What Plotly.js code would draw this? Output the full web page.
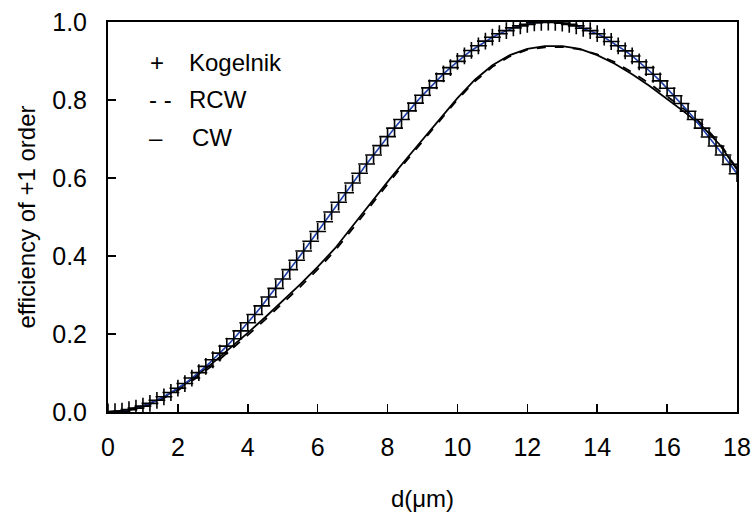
<!DOCTYPE html>
<html>
<head>
<meta charset="utf-8">
<script src="https://cdn.plot.ly/plotly-3.0.1.min.js"></script>
<style>
html,body{margin:0;padding:0;background:#fff;}
#chart{width:755px;height:517px;}
</style>
</head>
<body>
<div id="chart"></div>
<script>
// Kogelnik (step 0.2 um)
const dKog = [];
for (let i = 0; i <= 90; i++) dKog.push(+(i * 0.2).toFixed(1));
const effKogelnik = [
  0.000, 0.001, 0.002, 0.006, 0.010, 0.015, 0.022, 0.030, 0.039, 0.050,
  0.061, 0.073, 0.087, 0.101, 0.117, 0.134, 0.151, 0.169, 0.188, 0.208,
  0.229, 0.250, 0.272, 0.295, 0.317, 0.341, 0.365, 0.389, 0.413, 0.438,
  0.463, 0.488, 0.513, 0.538, 0.562, 0.587, 0.612, 0.636, 0.659, 0.683,
  0.706, 0.728, 0.750, 0.772, 0.792, 0.812, 0.831, 0.849, 0.867, 0.883,
  0.899, 0.913, 0.927, 0.939, 0.951, 0.961, 0.970, 0.978, 0.985, 0.990,
  0.994, 0.998, 0.999, 1.000, 0.999, 0.997, 0.994, 0.990, 0.984, 0.978,
  0.970, 0.961, 0.950, 0.939, 0.926, 0.913, 0.898, 0.883, 0.866, 0.849,
  0.830, 0.811, 0.791, 0.771, 0.750, 0.728, 0.705, 0.682, 0.659, 0.635, 0.611
];

// RCW and CW (step 0.5 um)
const dWave = [];
for (let i = 0; i <= 36; i++) dWave.push(i * 0.5);
const effRCW = [
  0.000, 0.003, 0.013, 0.031, 0.055, 0.086, 0.120, 0.158, 0.197, 0.237,
  0.278, 0.321, 0.366, 0.414, 0.470, 0.528, 0.584, 0.640, 0.694, 0.748,
  0.801, 0.848, 0.885, 0.912, 0.929, 0.935, 0.936, 0.930, 0.917, 0.897,
  0.871, 0.842, 0.810, 0.776, 0.738, 0.690, 0.623
];
const effCW = [
  0.000, 0.004, 0.015, 0.034, 0.059, 0.091, 0.126, 0.164, 0.203, 0.243,
  0.284, 0.327, 0.372, 0.420, 0.477, 0.535, 0.590, 0.645, 0.699, 0.752,
  0.805, 0.852, 0.889, 0.915, 0.931, 0.938, 0.938, 0.931, 0.915, 0.893,
  0.866, 0.836, 0.803, 0.769, 0.733, 0.686, 0.622
];

const xTicks = [0, 2, 4, 6, 8, 10, 12, 14, 16, 18];
const yTicks = [0, 0.2, 0.4, 0.6, 0.8, 1.0];
const yTickText = ["0.0", "0.2", "0.4", "0.6", "0.8", "1.0"];

const legendItems = [
  {sym: "+", label: "Kogelnik"},
  {sym: "- -", label: "RCW"},
  {sym: "\u2013", label: "CW"}
];

const FONT = "Liberation Sans, Arial, sans-serif";

const traces = [
  {x: dWave, y: effCW, mode: "lines", line: {color: "#000", width: 1.8}, showlegend: false},
  {x: dWave, y: effRCW, mode: "lines", line: {color: "#000", width: 1.8, dash: "dash"}, showlegend: false},
  {x: dKog, y: effKogelnik, mode: "lines+markers",
   line: {color: "#1f3fa8", width: 1.6},
   marker: {symbol: "cross-thin", size: 12, line: {color: "#000", width: 1.6}, color: "#000"},
   showlegend: false}
];

const symX = [0.078, 0.0827, 0.0763];
const labX = [0.1256, 0.1256, 0.130];
const rowY = [0.897, 0.80, 0.705];
const annotations = [];
legendItems.forEach((it, i) => {
  annotations.push({xref: "paper", yref: "paper", x: symX[i], y: rowY[i], text: it.sym,
    showarrow: false, xanchor: "center", yanchor: "middle", font: {family: FONT, size: 24, color: "#000"}});
  annotations.push({xref: "paper", yref: "paper", x: labX[i], y: rowY[i], text: it.label,
    showarrow: false, xanchor: "left", yanchor: "middle", font: {family: FONT, size: 24, color: "#000"}});
});

const layout = {
  width: 755, height: 517,
  margin: {l: 108, r: 18, t: 22, b: 105},
  paper_bgcolor: "#fff", plot_bgcolor: "#fff",
  font: {family: FONT, size: 25, color: "#000"},
  showlegend: false,
  xaxis: {
    range: [0, 18], tickvals: xTicks, ticktext: xTicks.map(String),
    showline: true, linecolor: "#000", linewidth: 2, mirror: true,
    ticks: "inside", ticklen: 8, tickwidth: 1.5, tickcolor: "#000",
    showgrid: false, zeroline: false,
    ticklabelstandoff: 12,
    tickfont: {family: FONT, size: 25, color: "#000"},
    title: {text: "d(\u03bcm)", font: {family: FONT, size: 24, color: "#000"}, standoff: 30}
  },
  yaxis: {
    range: [0, 1], tickvals: yTicks, ticktext: yTickText,
    showline: true, linecolor: "#000", linewidth: 2, mirror: true,
    ticks: "inside", ticklen: 8, tickwidth: 1.5, tickcolor: "#000",
    showgrid: false, zeroline: false,
    ticklabelstandoff: 14,
    tickfont: {family: FONT, size: 25, color: "#000"},
    title: {text: "efficiency of +1 order", font: {family: FONT, size: 24, color: "#000"}, standoff: 10}
  },
  annotations: annotations
};

Plotly.newPlot("chart", traces, layout, {displayModeBar: false, staticPlot: true});
</script>
</body>
</html>
